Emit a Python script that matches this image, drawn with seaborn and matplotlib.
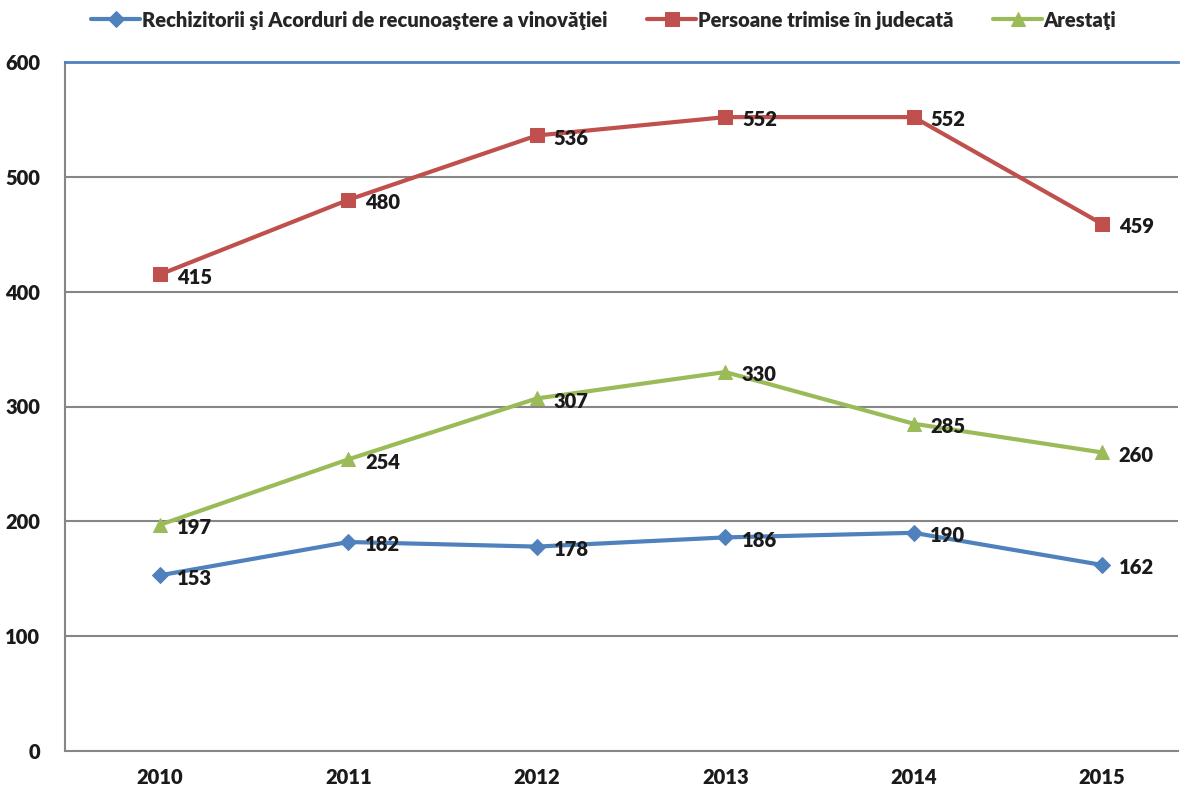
import matplotlib
matplotlib.use("Agg")
import matplotlib.pyplot as plt
import seaborn as sns
import pandas as pd

# ------------------------------------------------------------------
# DATA
# ------------------------------------------------------------------
years = ["2010", "2011", "2012", "2013", "2014", "2015"]
rechizitorii = [153, 182, 178, 186, 190, 162]
persoane = [415, 480, 536, 552, 552, 459]
arestati = [197, 254, 307, 330, 285, 260]

series_names = [
    "Rechizitorii şi Acorduri de recunoaştere a vinovăţiei",
    "Persoane trimise în judecată",
    "Arestaţi",
]
series_values = [rechizitorii, persoane, arestati]
colors = ["#4F81BD", "#C0504D", "#9BBB59"]
markers = ["D", "s", "^"]
marker_sizes = [8, 10, 10]

sns.set_theme(style="white")
plt.rcParams["font.family"] = ["Lato", "DejaVu Sans"]
plt.rcParams["font.weight"] = "heavy"

FS = 14.5
TXT = "#1a1a1a"

fig = plt.figure(figsize=(11.84, 7.89), dpi=100)
ax = fig.add_axes([65 / 1184, 1 - 751 / 789, (1178 - 65) / 1184, (751 - 62) / 789])

x = list(range(len(years)))
for name, vals, col, mk, ms in zip(series_names, series_values, colors, markers, marker_sizes):
    df = pd.DataFrame({"x": x, "y": vals})
    sns.lineplot(data=df, x="x", y="y", ax=ax, color=col, lw=3, marker=mk,
                 markersize=ms, markeredgecolor=col, label=name, zorder=3)
    for xi, yi in zip(x, vals):
        ax.annotate(str(yi), (xi, yi), xytext=(12, -2), textcoords="offset points",
                    ha="left", va="center", fontsize=FS, fontweight="heavy",
                    color=TXT, zorder=4)

ax.set_xlim(-0.504, 5.403)
ax.set_ylim(0, 600)
ax.set_yticks(range(0, 601, 100))
ax.set_xticks(x)
ax.set_xticklabels(years)
ax.set_xlabel("")
ax.set_ylabel("")
ax.tick_params(axis="both", length=0, labelsize=FS, colors=TXT)
ax.tick_params(axis="y", pad=18)
ax.tick_params(axis="x", pad=12)
for lab in ax.get_xticklabels() + ax.get_yticklabels():
    lab.set_fontweight("heavy")

for yv in range(100, 600, 100):
    ax.axhline(yv, color="#868686", lw=1.5, zorder=1)

ax.spines["right"].set_visible(False)
ax.spines["top"].set_color("#4F81BD")
ax.spines["top"].set_linewidth(2)
for s in ("left", "bottom"):
    ax.spines[s].set_color("#868686")
    ax.spines[s].set_linewidth(1.5)

handles, labels = ax.get_legend_handles_labels()
ax.get_legend().remove()
fig.legend(handles, labels, loc="center", bbox_to_anchor=(0.51, 1 - 20 / 789), ncol=3,
           frameon=False, handlelength=2.4, handletextpad=0.1,
           columnspacing=2.0, prop={"weight": "heavy", "size": FS})

fig.savefig("out.png", dpi=100)
